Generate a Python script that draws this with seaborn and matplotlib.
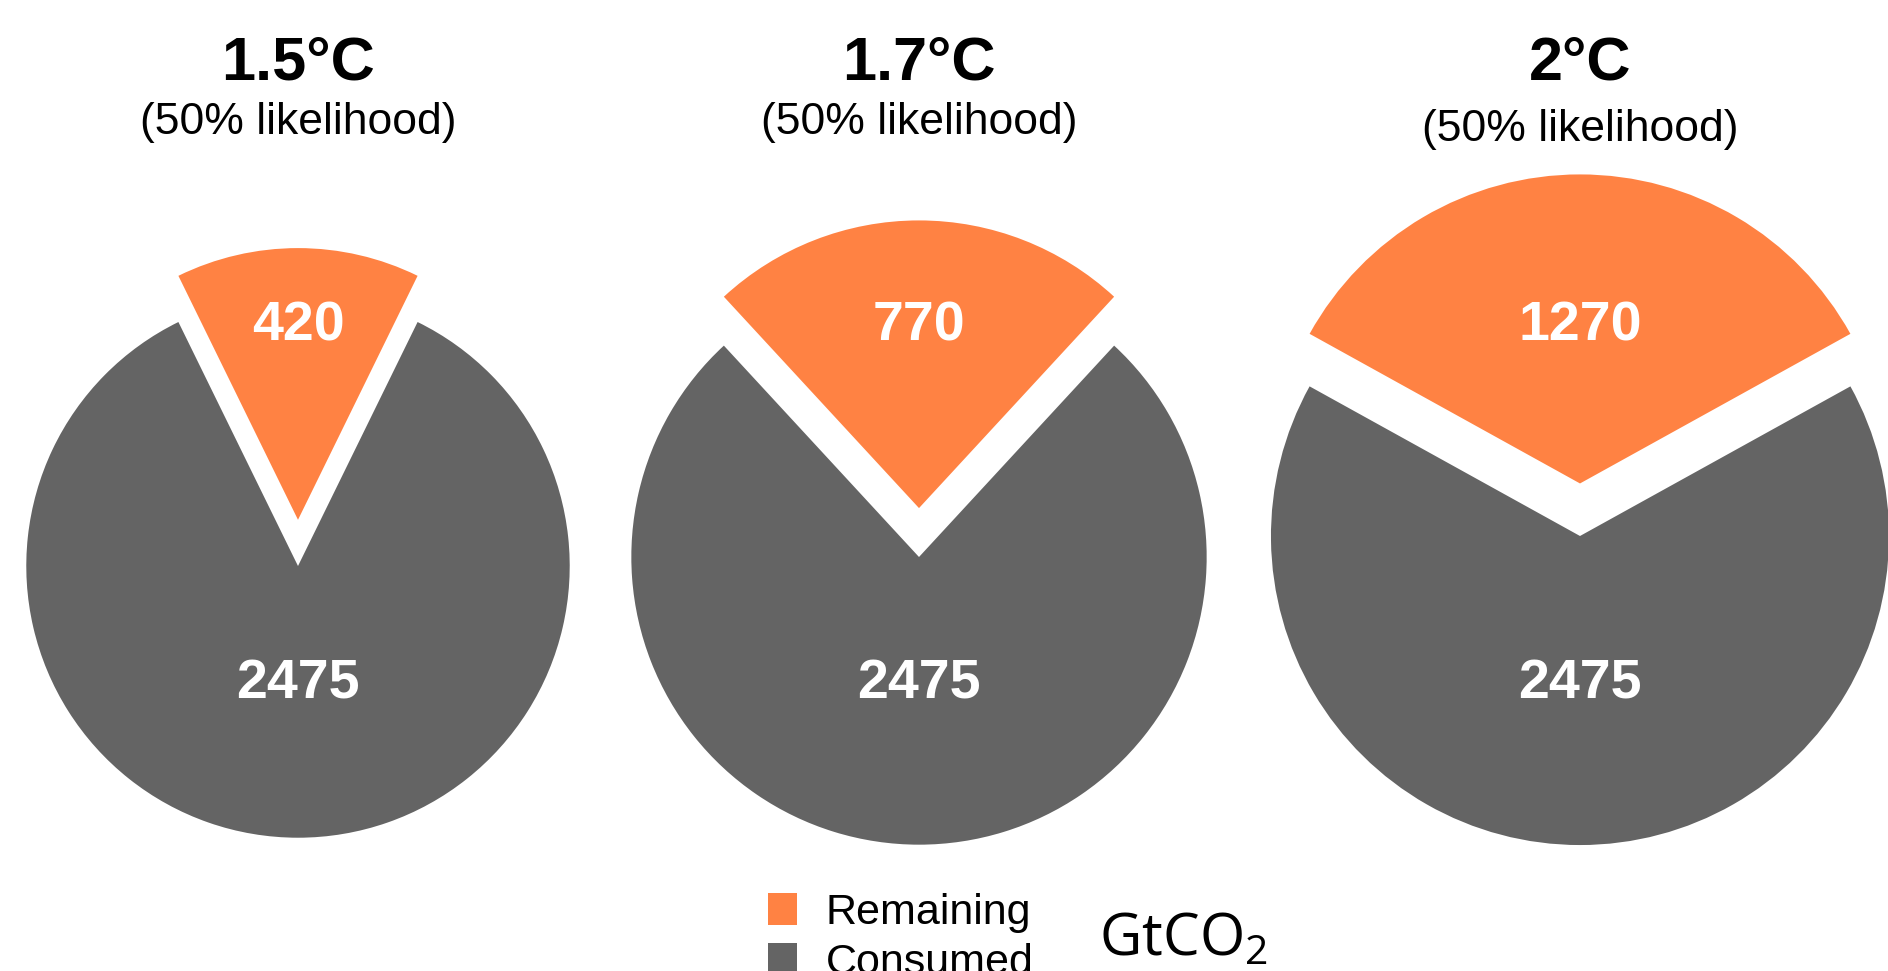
import numpy as np
import matplotlib
matplotlib.use('Agg')
import matplotlib.pyplot as plt
import seaborn as sns

# carbon budget per warming level, GtCO2
titles = ['1.5°C', '1.7°C', '2°C']
subtitle = '(50% likelihood)'
remaining = [420, 770, 1270]
consumed = [2475, 2475, 2475]
series = ['Remaining', 'Consumed']
colors = ['#FF8243', '#646464']

W, H = 1888, 971
centers_x = [298, 919, 1580]
centers_y = [566, 557, 536]   # measured from top
sub_y = [122, 122, 129]
r_scale = 5.05                 # pie area ~ total budget

sns.set_theme(style='white')
plt.rcParams['font.family'] = ['Liberation Sans', 'DejaVu Sans']
plt.rcParams['text.color'] = 'black'
plt.rcParams['mathtext.fontset'] = 'custom'
plt.rcParams['mathtext.rm'] = 'Open Sans'

fig = plt.figure(figsize=(W / 100, H / 100), dpi=100)
ax = fig.add_axes([0, 0, 1, 1])

handles = None
for i in range(len(titles)):
    vals = [remaining[i], consumed[i]]
    total = sum(vals)
    r = r_scale * np.sqrt(total)
    frac = remaining[i] / total
    cx, cy = centers_x[i], H - centers_y[i]
    wedges, _ = ax.pie(vals, colors=colors, startangle=90 - 180 * frac,
                       center=(cx, cy), radius=r, explode=[0.17 * r, 0],
                       frame=True, wedgeprops={'linewidth': 0})
    if handles is None:
        handles = wedges
    ax.text(cx, H - 326, str(remaining[i]), color='white', fontsize=40,
            fontweight='bold', ha='center', va='center')
    ax.text(cx, H - 684, str(consumed[i]), color='white', fontsize=40,
            fontweight='bold', ha='center', va='center')
    ax.text(cx, H - 64, titles[i], fontsize=44, fontweight='bold',
            ha='center', va='center', color='black')
    ax.text(cx, H - sub_y[i], subtitle, fontsize=32, ha='center',
            va='center', color='black')

ax.set_xlim(0, W)
ax.set_ylim(0, H)
ax.axis('off')

# legend runs off the bottom edge, as in the original
ax.legend(handles, series, loc='upper left', bbox_to_anchor=(768, H - 893),
          bbox_transform=ax.transData, frameon=False, fontsize=31,
          handlelength=0.67, handleheight=0.74, handletextpad=0.67,
          labelspacing=0.23, borderpad=0, borderaxespad=0,
          labelcolor='black')

ax.text(1099, H - 955, 'GtCO$_\\mathrm{2}$', fontsize=42, family='Open Sans',
        ha='left', va='baseline', color='black')

fig.savefig('out.png', dpi=100)
